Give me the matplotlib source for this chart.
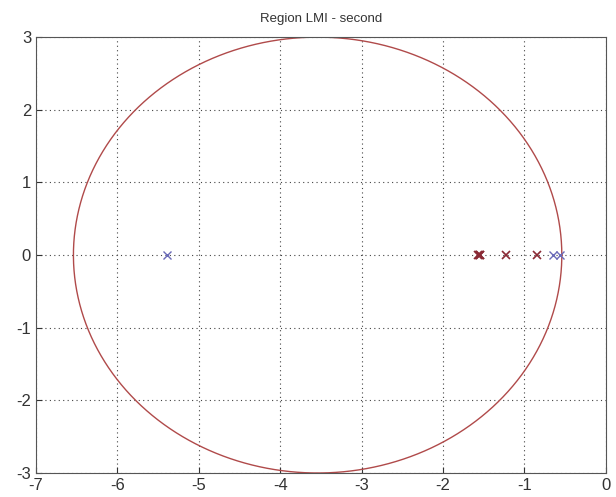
import numpy as np
import matplotlib
matplotlib.use('Agg')
import matplotlib.pyplot as plt

plt.rcParams['font.family'] = ['Liberation Sans', 'DejaVu Sans']
plt.rcParams['axes.unicode_minus'] = False

# poles and LMI region (circle)
blue_poles = [-5.39, -0.65, -0.56]
red_poles = [-1.57, -1.56, -1.55, -1.54, -1.22, -0.85]
center = -3.54
radius = 3.0

theta = np.linspace(0, 2 * np.pi, 400)
cx = center + radius * np.cos(theta)
cy = radius * np.sin(theta)

fig = plt.figure(figsize=(6.16, 4.97), dpi=100)
ax = fig.add_axes([0.0584, 0.0483, 0.925, 0.877])

ax.plot(cx, cy, color='#b04a4a', linewidth=1.0)
ax.plot(blue_poles, np.zeros(len(blue_poles)), 'x', color='#6a6ab8', markersize=6, markeredgewidth=1.0)
ax.plot(red_poles, np.zeros(len(red_poles)), 'x', color='#8a2a35', markersize=6, markeredgewidth=1.2)

ax.set_xlim(-7, 0)
ax.set_ylim(-3, 3)
ax.set_xticks(range(-7, 1))
ax.set_yticks(range(-3, 4))
ax.grid(True, linestyle=(0, (1, 3)), color='#444444', linewidth=0.8)
ax.tick_params(direction='in', labelsize=12, colors='#333333', length=4)
for s in ax.spines.values():
    s.set_color('#555555')
ax.set_title('Region LMI - second', fontsize=9.5, color='#333333', pad=11)

fig.savefig('out.png', dpi=100)
